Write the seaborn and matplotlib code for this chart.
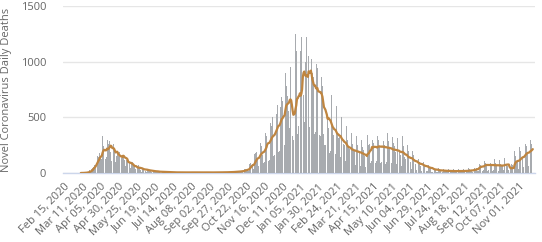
import numpy as np
import pandas as pd
import matplotlib
matplotlib.use("Agg")
import matplotlib.pyplot as plt
import seaborn as sns

sns.set_theme(style="white")
plt.rcParams['font.family'] = ['Open Sans', 'DejaVu Sans']

start_date = "2020-02-15"
tick_step = 25
y_ticks = [0, 500, 1000, 1500]
y_label = "Novel Coronavirus Daily Deaths"

# daily deaths, one row per week (Sat..Fri), starting Sat Feb 15, 2020
weekly_rows = [
    [0, 0, 0, 0, 0, 0, 0],
    [0, 0, 0, 0, 0, 0, 0],
    [0, 0, 0, 0, 0, 0, 0],
    [0, 0, 2, 0, 1, 1, 3],
    [2, 3, 4, 7, 8, 9, 12],
    [25, 20, 24, 33, 49, 55, 90],
    [75, 64, 101, 128, 149, 140, 168],
    [184, 140, 130, 200, 334, 246, 226],
    [160, 125, 140, 304, 300, 260, 290],
    [240, 185, 110, 194, 281, 260, 227],
    [117, 100, 150, 202, 200, 156, 193],
    [94, 54, 139, 165, 283, 147, 118],
    [60, 30, 120, 110, 130, 110, 101],
    [44, 22, 81, 95, 83, 57, 57],
    [35, 20, 40, 60, 70, 55, 50],
    [25, 12, 24, 45, 40, 42, 38],
    [20, 10, 15, 33, 32, 30, 26],
    [14, 7, 10, 22, 25, 21, 16],
    [10, 5, 7, 17, 16, 15, 11],
    [8, 3, 5, 12, 13, 11, 9],
    [6, 2, 4, 10, 9, 9, 7],
    [6, 2, 3, 9, 8, 8, 6],
    [5, 1, 4, 8, 7, 9, 5],
    [4, 2, 3, 7, 8, 7, 6],
    [5, 1, 3, 8, 6, 8, 5],
    [4, 2, 4, 9, 7, 6, 6],
    [5, 1, 3, 7, 8, 7, 5],
    [4, 2, 3, 8, 6, 7, 6],
    [5, 1, 4, 7, 8, 6, 5],
    [4, 2, 3, 8, 7, 8, 6],
    [5, 2, 4, 9, 8, 7, 6],
    [6, 2, 4, 10, 9, 8, 7],
    [7, 3, 5, 12, 11, 10, 9],
    [9, 4, 6, 15, 14, 13, 12],
    [13, 5, 8, 22, 20, 20, 17],
    [20, 8, 12, 35, 40, 35, 30],
    [40, 20, 25, 80, 90, 95, 90],
    [80, 40, 50, 170, 180, 190, 160],
    [120, 65, 75, 260, 265, 245, 220],
    [160, 90, 100, 340, 360, 330, 400],
    [240, 110, 120, 410, 450, 420, 500],
    [300, 150, 160, 490, 560, 530, 610],
    [430, 190, 200, 590, 690, 680, 650],
    [520, 250, 250, 900, 950, 780, 690],
    [560, 300, 400, 950, 890, 490, 330],
    [300, 330, 450, 1250, 1100, 910, 350],
    [420, 380, 600, 1100, 1220, 1190, 1110],
    [700, 460, 420, 1000, 1220, 1240, 1000],
    [1050, 410, 370, 1150, 1020, 900, 850],
    [860, 350, 370, 990, 980, 940, 660],
    [830, 340, 330, 990, 860, 780, 350],
    [500, 250, 250, 840, 700, 520, 400],
    [460, 180, 200, 700, 560, 400, 340],
    [380, 150, 170, 600, 460, 350, 310],
    [320, 130, 140, 500, 380, 300, 260],
    [250, 100, 110, 420, 300, 230, 230],
    [220, 80, 90, 360, 260, 230, 200],
    [200, 70, 80, 330, 250, 220, 180],
    [180, 60, 70, 300, 230, 210, 140],
    [150, 50, 60, 230, 340, 250, 180],
    [260, 90, 110, 400, 300, 270, 220],
    [250, 90, 110, 360, 330, 300, 240],
    [230, 90, 100, 380, 310, 290, 250],
    [210, 80, 100, 360, 300, 290, 235],
    [200, 70, 90, 320, 280, 270, 240],
    [190, 65, 80, 310, 270, 250, 200],
    [160, 60, 60, 330, 240, 200, 140],
    [130, 50, 55, 250, 200, 160, 135],
    [100, 40, 45, 200, 160, 130, 95],
    [80, 30, 35, 150, 125, 100, 75],
    [60, 22, 27, 120, 95, 75, 55],
    [45, 15, 20, 90, 70, 55, 42],
    [30, 10, 13, 60, 45, 35, 30],
    [22, 8, 10, 45, 35, 25, 23],
    [18, 6, 8, 38, 30, 22, 18],
    [16, 5, 7, 35, 27, 21, 15],
    [15, 4, 7, 32, 26, 20, 15],
    [15, 5, 6, 33, 25, 20, 15],
    [16, 5, 7, 35, 27, 22, 14],
    [20, 6, 9, 42, 34, 26, 17],
    [27, 8, 12, 58, 45, 35, 25],
    [45, 15, 20, 110, 80, 70, 45],
    [60, 20, 25, 130, 110, 90, 70],
    [60, 20, 25, 135, 105, 90, 70],
    [55, 20, 25, 125, 105, 90, 70],
    [55, 18, 22, 120, 95, 85, 65],
    [60, 22, 28, 135, 110, 95, 75],
    [65, 25, 30, 0, 40, 60, 85],
    [70, 28, 35, 200, 150, 130, 110],
    [100, 40, 45, 230, 200, 180, 150],
    [140, 55, 60, 290, 260, 240, 190],
    [170, 65, 75, 340, 300, 260, 240],
]
last_days = [220]

daily_deaths = [v for row in weekly_rows for v in row] + last_days
n = len(daily_deaths)
dates = pd.date_range(start_date, periods=n, freq="D")
labels = [d.strftime("%b %d, %Y") for d in dates]

df = pd.DataFrame({"label": labels, "deaths": daily_deaths})
avg = df["deaths"].rolling(7, min_periods=1).mean()
started = df["deaths"].cumsum() > 0
df["avg"] = avg.where(started)
df["pos"] = np.arange(n)

fig = plt.figure(figsize=(5.42, 2.42), dpi=100)
ax = fig.add_axes([63 / 542, 1 - 173 / 242, 472 / 542, 167 / 242])

sns.barplot(data=df, x="label", y="deaths", color="#a8abaf", saturation=1,
            width=0.85, linewidth=0, ax=ax, zorder=2)
sns.lineplot(data=df, x="pos", y="avg", color="#bf8540", linewidth=1.6,
             ax=ax, zorder=3)

ax.set_xlim(-1.5, 647)
ax.set_ylim(0, 1500)
ax.set_yticks(y_ticks)
ax.set_yticklabels([str(t) for t in y_ticks])
tick_pos = list(range(0, n, tick_step))
ax.set_xticks(tick_pos)
ax.set_xticklabels([labels[i] for i in tick_pos], rotation=45, ha="right",
                   rotation_mode="anchor")

ax.yaxis.grid(True, color="#e6e6e6", linewidth=1)
ax.xaxis.grid(False)
ax.set_axisbelow(True)
for s in ["top", "right", "left"]:
    ax.spines[s].set_visible(False)
ax.spines["bottom"].set_color("#ccd6eb")
ax.spines["bottom"].set_linewidth(1)
ax.spines["bottom"].set_zorder(1)

ax.tick_params(axis="x", length=0, pad=6, labelsize=8, labelcolor="#666666")
ax.tick_params(axis="y", length=0, pad=12, labelsize=8, labelcolor="#666666")
ax.set_xlabel("")
ax.set_ylabel(y_label, fontsize=8, color="#666666", labelpad=6)

fig.savefig("out.png", dpi=100)
